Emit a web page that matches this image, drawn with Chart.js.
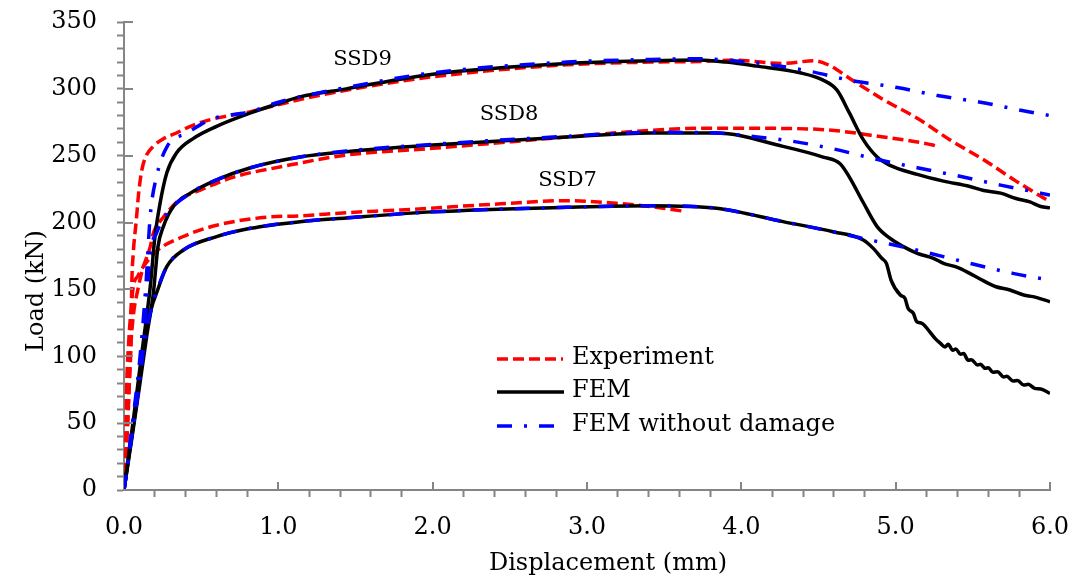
<!DOCTYPE html>
<html>
<head>
<meta charset="utf-8">
<script src="https://cdn.jsdelivr.net/npm/chart.js@4.4.0/dist/chart.umd.min.js"></script>
<style>
  html, body { margin: 0; padding: 0; background: #fff; }
</style>
</head>
<body>
<canvas id="loadChart" width="1071" height="583"></canvas>
<script>
// === DATA (displacement in mm, load in kN) ===

// SSD9
const ssd9ExpDisp = [0, 0.02, 0.035, 0.045, 0.05, 0.06, 0.08, 0.095, 0.115, 0.14, 0.19, 0.26, 0.34, 0.43, 0.56, 0.82, 1.14, 1.44, 2.0, 2.87, 3.41, 3.73, 3.95, 4.27, 4.47, 4.58, 4.70, 4.92, 5.14, 5.35, 5.57, 5.78, 6.0];
const ssd9ExpLoad = [0, 40, 80, 110, 152, 177, 202, 222, 239, 249, 257, 263, 267, 272, 277, 283, 292, 299, 309, 318, 320, 320.5, 321.5, 319, 321, 317, 308, 292, 278, 262, 247, 231, 215.5];
const ssd9FemDisp = [0, 0.06, 0.115, 0.17, 0.20, 0.233, 0.277, 0.34, 0.45, 0.60, 0.82, 1.0, 1.14, 1.44, 2.0, 2.87, 3.41, 3.73, 3.9, 4.1, 4.38, 4.53, 4.62, 4.70, 4.79, 4.88, 4.96, 5.14, 5.31, 5.48, 5.57, 5.68, 5.78, 5.87, 5.94, 6.0];
const ssd9FemLoad = [0, 52, 102, 152, 189, 214, 237, 252, 263, 272, 282, 289, 294, 300, 311, 319, 321, 321.5, 320, 317, 312, 306.5, 299, 282, 262, 249, 243, 236, 231, 227, 224, 222, 218, 215.5, 212, 211];
const ssd9NodDisp = [0, 0.06, 0.10, 0.14, 0.17, 0.21, 0.28, 0.41, 0.56, 0.82, 1.0, 1.44, 2.0, 2.87, 3.41, 3.73, 3.95, 4.19, 4.45, 4.70, 5.01, 5.27, 5.55, 5.81, 6.0];
const ssd9NodLoad = [0, 55, 95, 150, 205, 234, 257, 267, 277, 283, 290, 301, 312, 320, 322, 322.5, 321, 318, 313, 306.5, 301, 295, 290, 284, 280];

// SSD8
const ssd8ExpDisp = [0, 0.015, 0.03, 0.04, 0.06, 0.09, 0.12, 0.15, 0.17, 0.19, 0.255, 0.36, 0.49, 0.71, 1.03, 1.44, 2.0, 2.87, 3.41, 3.73, 4.06, 4.49, 4.92, 5.24, 5.27];
const ssd8ExpLoad = [0, 30, 70, 100, 130, 150, 165, 175, 182, 192, 204, 217, 224, 234, 242, 250.5, 255.5, 264, 269, 270.5, 270.5, 269.8, 264, 258, 257];
const ssd8FemDisp = [0, 0.05, 0.10, 0.147, 0.19, 0.22, 0.255, 0.32, 0.43, 0.60, 0.82, 1.14, 1.44, 2.0, 2.87, 3.41, 3.84, 4.27, 4.53, 4.64, 4.70, 4.79, 4.88, 4.96, 5.05, 5.14, 5.245, 5.31, 5.40, 5.48, 5.55, 5.65, 5.74, 5.83, 5.89, 6.0];
const ssd8FemLoad = [0, 38, 77, 115, 147, 182, 197, 212, 222, 232, 241, 249, 253, 258, 264, 267, 267, 257, 249, 244, 234, 215, 197, 188.5, 182, 177, 173.3, 169.5, 166.5, 162, 157.6, 152, 149.6, 145.8, 144.6, 140.8];
const ssd8NodDisp = [0, 0.05, 0.10, 0.14, 0.17, 0.21, 0.28, 0.43, 0.60, 0.82, 1.14, 1.44, 2.0, 2.87, 3.41, 3.84, 4.05, 4.32, 4.60, 4.85, 5.14, 5.40, 5.68, 5.94, 6.0];
const ssd8NodLoad = [0, 40, 82, 130, 177, 192, 207, 222, 232, 241, 249, 253.5, 258.5, 264.5, 267.5, 267, 264.7, 261, 255, 248, 241, 235, 228, 222, 220.5];

// SSD7
const ssd7ExpDisp = [0, 0.01, 0.017, 0.03, 0.04, 0.06, 0.09, 0.125, 0.22, 0.38, 0.60, 0.92, 1.14, 1.44, 1.79, 2.44, 2.87, 3.19, 3.41, 3.62];
const ssd7ExpLoad = [0, 30, 77, 110, 127, 152, 160, 167, 179.5, 189.4, 198, 204, 205, 207.4, 209.4, 214, 216.4, 214.4, 212, 208.6];
const ssd7FemDisp = [0, 0.04, 0.082, 0.136, 0.18, 0.21, 0.277, 0.385, 0.60, 0.82, 1.14, 1.44, 2.0, 2.87, 3.41, 3.84, 4.27, 4.60, 4.79, 4.855, 4.91, 4.94, 4.97, 5.03, 5.06, 5.08, 5.115, 5.136, 5.17, 5.22, 5.255, 5.29, 5.32, 5.34, 5.37, 5.39, 5.42, 5.44, 5.47, 5.49, 5.53, 5.55, 5.58, 5.60, 5.63, 5.66, 5.70, 5.72, 5.76, 5.79, 5.83, 5.86, 5.90, 5.94, 6.0];
const ssd7FemLoad = [0, 32, 65, 112, 137, 147, 167, 179.5, 189.5, 195.7, 200.7, 203.5, 208, 211.4, 212.6, 210.7, 200.7, 193, 187, 180.7, 173.3, 169.5, 157, 145.8, 143.4, 135.9, 132.1, 125.9, 124.7, 118.4, 113.4, 109.7, 107, 109, 104.5, 105.5, 101.5, 102, 97, 97.5, 93.5, 94, 91, 91.5, 88, 88.5, 84.5, 85, 81.5, 81.8, 78.5, 79, 76, 75.5, 72.3];
const ssd7NodDisp = [0, 0.04, 0.082, 0.136, 0.18, 0.21, 0.277, 0.385, 0.60, 0.82, 1.14, 1.44, 2.0, 2.87, 3.41, 3.84, 4.27, 4.60, 4.79, 4.96, 5.24, 5.50, 5.76, 6.0];
const ssd7NodLoad = [0, 32, 65, 112, 137, 148, 167, 179.5, 189.5, 195.7, 200.7, 203.5, 208, 211.4, 212.6, 210.7, 200.7, 193, 188, 184, 176.5, 169, 162, 157];

// curve labels
const curveNames = ['SSD9', 'SSD8', 'SSD7'];
const curveNameDisp = [1.545, 2.495, 2.874];
const curveNameLoad = [321.6, 280.5, 231.8];

const legendNames = ['Experiment', 'FEM', 'FEM without damage'];

// === STYLE ===
const FONT = 'DejaVu Serif';
const AXIS_GREY = '#858585';
const RED = '#ff0000', BLACK = '#000000', BLUE = '#0000ff';
const RED_DASH = [11, 5];
const BLUE_DASH = [15, 12, 3, 12];
const LINE_W = 3.5;

const isWhole = v => Math.abs(v - Math.round(v)) < 1e-6;
const pts = (xs, ys) => xs.map((x, i) => ({ x, y: ys[i] }));

function expSet(xs, ys) {
    return { data: pts(xs, ys), borderColor: RED, borderWidth: LINE_W, borderDash: RED_DASH, order: 2 };
}
function femSet(xs, ys) {
    return { data: pts(xs, ys), borderColor: BLACK, borderWidth: LINE_W, order: 1 };
}
function nodSet(xs, ys) {
    return { data: pts(xs, ys), borderColor: BLUE, borderWidth: LINE_W, borderDash: BLUE_DASH, order: 0 };
}

// === EXTRA DRAWING: inner major ticks, titles, curve labels, legend ===
const decorPlugin = {
    id: 'decor',
    afterDraw(chart) {
        const { ctx, chartArea: area, scales: { x, y } } = chart;
        ctx.save();

        // major ticks pointing into the plot
        ctx.strokeStyle = AXIS_GREY;
        ctx.lineWidth = 2;
        ctx.beginPath();
        for (let v = 0; v <= 350; v += 50) {
            const py = Math.round(y.getPixelForValue(v));
            ctx.moveTo(area.left, py);
            ctx.lineTo(area.left + 9, py);
        }
        for (let v = 1; v <= 6; v++) {
            const px = Math.round(x.getPixelForValue(v));
            ctx.moveTo(px, area.bottom);
            ctx.lineTo(px, area.bottom - 8);
        }
        ctx.stroke();

        ctx.fillStyle = '#000';
        ctx.textBaseline = 'middle';

        // curve labels
        ctx.font = '21px "' + FONT + '"';
        ctx.textAlign = 'center';
        curveNames.forEach((n, i) => {
            ctx.fillText(n, x.getPixelForValue(curveNameDisp[i]), y.getPixelForValue(curveNameLoad[i]));
        });

        // axis titles
        ctx.font = '24px "' + FONT + '"';
        ctx.fillText('Displacement (mm)', 608, 564);
        ctx.save();
        ctx.translate(37, 291);
        ctx.rotate(-Math.PI / 2);
        ctx.fillText('Load (kN)', 0, 0);
        ctx.restore();

        // legend
        const rows = [359, 392, 426];
        const colors = [RED, BLACK, BLUE];
        const dashes = [RED_DASH, [], BLUE_DASH];
        const ends = [563, 564, 556];
        ctx.textAlign = 'left';
        legendNames.forEach((n, i) => {
            ctx.beginPath();
            ctx.strokeStyle = colors[i];
            ctx.lineWidth = LINE_W;
            ctx.setLineDash(dashes[i]);
            ctx.moveTo(497, rows[i]);
            ctx.lineTo(ends[i], rows[i]);
            ctx.stroke();
            ctx.setLineDash([]);
            ctx.fillText(n, 572, rows[i] - 1);
        });

        ctx.restore();
    }
};

// === CHART ===
const chart = new Chart(document.getElementById('loadChart').getContext('2d'), {
    type: 'line',
    data: {
        datasets: [
            expSet(ssd9ExpDisp, ssd9ExpLoad), femSet(ssd9FemDisp, ssd9FemLoad), nodSet(ssd9NodDisp, ssd9NodLoad),
            expSet(ssd8ExpDisp, ssd8ExpLoad), femSet(ssd8FemDisp, ssd8FemLoad), nodSet(ssd8NodDisp, ssd8NodLoad),
            expSet(ssd7ExpDisp, ssd7ExpLoad), femSet(ssd7FemDisp, ssd7FemLoad), nodSet(ssd7NodDisp, ssd7NodLoad)
        ]
    },
    options: {
        responsive: false, animation: false, devicePixelRatio: 1,
        layout: { padding: { left: 0, right: 21, top: 22, bottom: 0 } },
        elements: {
            point: { radius: 0 },
            line: { cubicInterpolationMode: 'monotone', fill: false }
        },
        plugins: { legend: { display: false }, tooltip: { enabled: false } },
        scales: {
            x: {
                type: 'linear', min: 0, max: 6,
                border: { color: AXIS_GREY, width: 2 },
                grid: {
                    drawOnChartArea: false, tickLength: 7, tickWidth: 2,
                    tickColor: c => (c.tick && isWhole(c.tick.value)) ? 'rgba(0,0,0,0)' : AXIS_GREY
                },
                ticks: {
                    stepSize: 0.2, autoSkip: false, maxRotation: 0, padding: 16, color: '#000',
                    font: { family: FONT, size: 24 },
                    callback: v => isWhole(v) ? Number(v).toFixed(1) : ''
                },
                afterFit: s => { s.height = 93; s.paddingLeft = 0; s.paddingRight = 0; }
            },
            y: {
                min: 0, max: 350,
                border: { color: AXIS_GREY, width: 2 },
                grid: { drawOnChartArea: false, tickLength: 7, tickWidth: 2, tickColor: AXIS_GREY },
                ticks: {
                    stepSize: 10, autoSkip: false, padding: 20, color: '#000',
                    font: { family: FONT, size: 24 },
                    callback: v => (v % 50 === 0) ? String(v) : ''
                },
                afterFit: s => { s.width = 124; s.paddingTop = 0; s.paddingBottom = 0; }
            }
        }
    },
    plugins: [decorPlugin]
});
</script>
</body>
</html>
